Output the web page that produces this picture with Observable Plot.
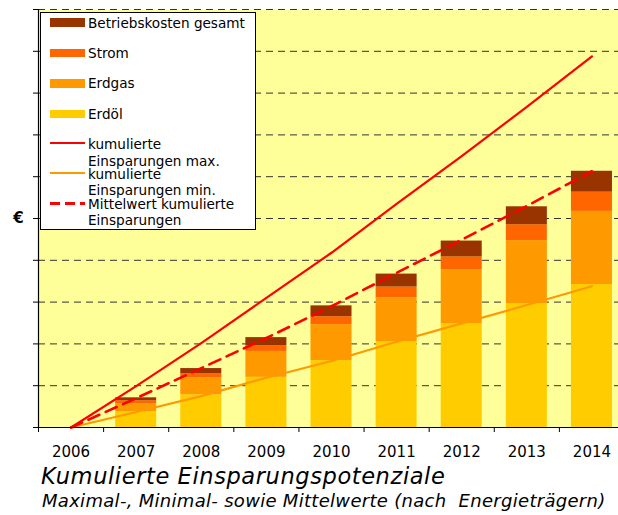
<!DOCTYPE html>
<html>
<head>
<meta charset="utf-8">
<script src="https://cdn.jsdelivr.net/npm/d3@7"></script>
<script src="https://cdn.jsdelivr.net/npm/@observablehq/plot@0.6"></script>
<style>
  html, body { margin: 0; padding: 0; background: #fff; overflow: hidden; }
  body { width: 618px; height: 515px; position: relative; font-family: "DejaVu Sans", Verdana, sans-serif; }
  #chart { position: absolute; left: 0; top: 0; }
  .abs { position: absolute; white-space: pre; line-height: 1; }
  #legend { position: absolute; left: 40px; top: 12px; width: 214px; height: 216px; border: 1px solid #000; background: #fff; }
  .lt { position: absolute; left: 88px; font-size: 13.6px; line-height: 12px; height: 12px; white-space: pre; color: #000; }
  .sw { position: absolute; left: 50px; width: 35px; }
  #title { left: 41px; top: 465px; font-size: 22.5px; letter-spacing: 0.6px; font-style: italic; }
  #subtitle { left: 42px; top: 491.5px; font-size: 18px; letter-spacing: 0.3px; font-style: italic; }
</style>
</head>
<body>
<div id="chart"></div>
<div id="legendLayer"></div>
<div id="title" class="abs"></div>
<div id="subtitle" class="abs"></div>
<script>
// ---- data ----
const years = [2006, 2007, 2008, 2009, 2010, 2011, 2012, 2013, 2014];
const erdoel  = [0, 0.38, 0.78, 1.20, 1.60, 2.05, 2.48, 2.96, 3.42];
const erdgas  = [0, 0.19, 0.41, 0.62, 0.86, 1.05, 1.29, 1.51, 1.75];
const strom   = [0, 0.07, 0.10, 0.14, 0.19, 0.26, 0.31, 0.38, 0.46];
const betrieb = [0, 0.07, 0.12, 0.19, 0.26, 0.31, 0.38, 0.43, 0.50];
const maxSav  = [0, 0.99, 2.02, 3.10, 4.18, 5.35, 6.49, 7.67, 8.88];
const minSav  = [0, 0.37, 0.75, 1.19, 1.59, 2.05, 2.49, 2.93, 3.38];
const meanSav = [0, 0.70, 1.42, 2.14, 2.90, 3.70, 4.49, 5.30, 6.13];
const yTicks = [0, 1, 2, 3, 4, 5, 6, 7, 8, 9, 10];
const yLabel = "€";
const stackNames = ["Erdöl", "Erdgas", "Strom", "Betriebskosten gesamt"];
const stackColors = ["#FFCC00", "#FF9900", "#FF6600", "#993300"];
const lineNames = ["kumulierte\nEinsparungen max.", "kumulierte\nEinsparungen min.", "Mittelwert kumulierte\nEinsparungen"];
const lineColors = ["#FF0000", "#FF9900", "#FF0000"];
const titleText = "Kumulierte Einsparungspotenziale";
const subtitleText = "Maximal-, Minimal- sowie Mittelwerte (nach  Energieträgern)";

// ---- build tables ----
const stackSeries = [erdoel, erdgas, strom, betrieb];
const barHalf = 0.315;
const rects = [];
years.forEach((yr, i) => {
  let base = 0;
  stackSeries.forEach((s, k) => {
    const v = s[i];
    if (v > 0) rects.push({year: yr, x1: yr - barHalf, x2: yr + barHalf, y1: base, y2: base + v, name: stackNames[k]});
    base += v;
  });
});
const toPts = arr => years.map((yr, i) => ({year: yr, v: arr[i]}));
const boundaries = years.map(y => y - 0.5).concat([years[years.length - 1] + 0.5]);

const chart = Plot.plot({
  width: 618,
  height: 460,
  marginLeft: 38,
  marginRight: 0,
  marginTop: 9,
  marginBottom: 33,
  style: {fontFamily: "'DejaVu Sans', Verdana, sans-serif", background: "transparent", overflow: "visible", color: "#000"},
  x: {type: "linear", domain: [2005.5, 2014.5], range: [38, 624]},
  y: {domain: [0, 10], range: [427, 9]},
  color: {domain: stackNames, range: stackColors},
  marks: [
    Plot.frame({fill: "#FFFF99", stroke: "none"}),
    Plot.ruleY(yTicks.filter(t => t > 0), {stroke: "#333", strokeWidth: 1, strokeDasharray: "7,5"}),
    Plot.rect(rects, {x1: "x1", x2: "x2", y1: "y1", y2: "y2", fill: "name"}),
    Plot.line(toPts(minSav), {x: "year", y: "v", stroke: lineColors[1], strokeWidth: 2.2}),
    Plot.line(toPts(maxSav), {x: "year", y: "v", stroke: lineColors[0], strokeWidth: 2.2}),
    Plot.line(toPts(meanSav), {x: "year", y: "v", stroke: lineColors[2], strokeWidth: 2.6, strokeDasharray: "12,7"}),
    Plot.ruleX([2005.5], {stroke: "#000", strokeWidth: 1.2}),
    Plot.ruleY([0], {stroke: "#000", strokeWidth: 1.2}),
    Plot.axisY({ticks: yTicks, tickSize: 5, tickFormat: () => "", label: null}),
    Plot.axisX({ticks: boundaries, tickSize: 5, tickFormat: () => "", label: null}),
    Plot.axisX({ticks: years, tickSize: 0, tickPadding: 19, tickFormat: d => String(d), fontSize: 15, label: null}),
    Plot.text([5], {y: d => d, frameAnchor: "left", dx: -20, text: () => yLabel, fontSize: 15, fontWeight: "bold", textAnchor: "middle"})
  ]
});
document.getElementById("chart").appendChild(chart);

// ---- legend (HTML) ----
const layer = document.getElementById("legendLayer");
const legend = document.createElement("div");
legend.id = "legend";
layer.appendChild(legend);
function add(el) { layer.appendChild(el); return el; }
const FS = 13.6, LH = 12;
const BO = (LH - 1.164 * FS) / 2 + 0.928 * FS; // baseline offset within line box
const swCenters = [22.5, 52.8, 83.5, 113.7];
const swBase = [27.3, 57.3, 87.7, 118.3];
stackNames.slice().reverse().forEach((n, j) => {
  const c = stackColors[stackNames.length - 1 - j];
  const sw = document.createElement("div");
  sw.className = "sw";
  sw.style.top = (swCenters[j] - 4.2) + "px";
  sw.style.height = "8.4px";
  sw.style.background = c;
  add(sw);
  const t = document.createElement("div");
  t.className = "lt";
  t.style.top = (swBase[j] - BO) + "px";
  t.textContent = n;
  add(t);
});
const lineY = [143.3, 172.7, 203];
const lineBase = [[149, 165.7], [178.3, 194.3], [208.3, 225]];
lineNames.forEach((n, j) => {
  const sw = document.createElement("div");
  sw.className = "sw";
  if (j === 2) {
    sw.style.top = (lineY[j] - 1.5) + "px";
    sw.style.height = "3px";
    sw.style.background = "repeating-linear-gradient(to right, " + lineColors[j] + " 0 10px, transparent 10px 15px)";
  } else {
    sw.style.top = (lineY[j] - 1.2) + "px";
    sw.style.height = "2.4px";
    sw.style.background = lineColors[j];
  }
  add(sw);
  n.split("\n").forEach((line, k) => {
    const t = document.createElement("div");
    t.className = "lt";
    t.style.top = (lineBase[j][k] - BO) + "px";
    t.textContent = line;
    add(t);
  });
});

document.getElementById("title").textContent = titleText;
document.getElementById("subtitle").textContent = subtitleText;
</script>
</body>
</html>
